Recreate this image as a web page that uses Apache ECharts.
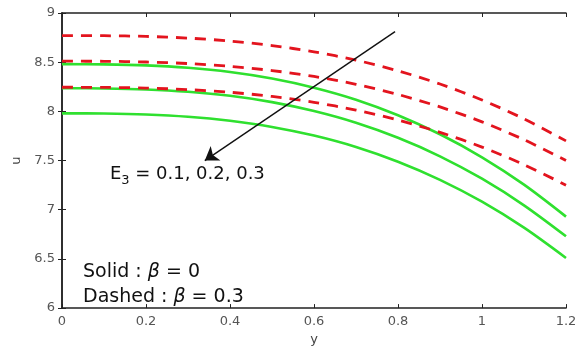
<!DOCTYPE html>
<html>
<head>
<meta charset="utf-8">
<script src="https://cdn.jsdelivr.net/npm/echarts@6/dist/echarts.min.js"></script>
<style>
html,body{margin:0;padding:0;background:#fff;}
#chart{width:582px;height:351px;}
</style>
</head>
<body>
<div id="chart"></div>
<script>
// ---- data ----
const yValues = [0, 0.1, 0.2, 0.3, 0.4, 0.5, 0.6, 0.7, 0.8, 0.9, 1.0, 1.1, 1.2];
// Solid (beta = 0), E3 = 0.1, 0.2, 0.3
const solidE1 = [8.48, 8.478, 8.468, 8.443, 8.400, 8.334, 8.241, 8.119, 7.961, 7.767, 7.533, 7.255, 6.93];
const solidE2 = [8.235, 8.233, 8.223, 8.199, 8.158, 8.094, 8.003, 7.884, 7.731, 7.543, 7.315, 7.045, 6.73];
const solidE3 = [7.98, 7.978, 7.968, 7.945, 7.904, 7.842, 7.754, 7.638, 7.488, 7.304, 7.082, 6.818, 6.51];
// Dashed (beta = 0.3), E3 = 0.1, 0.2, 0.3
const dashedE1 = [8.77, 8.769, 8.762, 8.745, 8.715, 8.669, 8.605, 8.521, 8.412, 8.278, 8.116, 7.924, 7.70];
const dashedE2 = [8.51, 8.509, 8.502, 8.486, 8.458, 8.415, 8.355, 8.275, 8.172, 8.045, 7.893, 7.712, 7.50];
const dashedE3 = [8.245, 8.244, 8.237, 8.221, 8.194, 8.152, 8.092, 8.013, 7.912, 7.787, 7.637, 7.458, 7.25];
const xTicks = [0, 0.2, 0.4, 0.6, 0.8, 1, 1.2];
const uTicks = [6, 6.5, 7, 7.5, 8, 8.5, 9];
// annotation anchors (data coordinates)
const arrowFrom = [0.793, 8.81];
const arrowTo = [0.340, 7.50];
const e3LabelAt = [0.114, 7.36];
const solidLabelAt = [0.05, 6.37];
const dashedLabelAt = [0.05, 6.115];

const GREEN = '#2fe02f';
const RED = '#e3141e';
const FONT = 'DejaVu Sans';

function pairs(ys) { return yValues.map((x, i) => [x, ys[i]]); }
function solid(ys) {
  return { type: 'line', data: pairs(ys), smooth: 0.3, showSymbol: false, symbol: 'none',
    lineStyle: { color: GREEN, width: 2.6 }, z: 2, silent: true };
}
function dashed(ys) {
  return { type: 'line', data: pairs(ys), smooth: 0.3, showSymbol: false, symbol: 'none',
    lineStyle: { color: RED, width: 2.8, type: [11, 8] }, z: 3, silent: true };
}

const axisLine = { show: true, lineStyle: { color: '#222', width: 1.5 } };
const tickLabel = { color: '#555', fontFamily: FONT, fontSize: 13 };

const chart = echarts.init(document.getElementById('chart'), null, { renderer: 'canvas' });
chart.setOption({
  animation: false,
  backgroundColor: '#fff',
  grid: { left: 62, right: 16, top: 13, bottom: 40, containLabel: false },
  xAxis: [
    { type: 'value', min: xTicks[0], max: xTicks[xTicks.length - 1], interval: 0.2,
      name: 'y', nameLocation: 'middle', nameGap: 15,
      nameTextStyle: { color: '#444', fontFamily: FONT, fontSize: 13 },
      axisLine: axisLine, axisTick: { inside: true, length: 4, lineStyle: { color: '#222' } },
      axisLabel: Object.assign({ margin: 7 }, tickLabel), splitLine: { show: false } },
    { type: 'value', position: 'top', min: xTicks[0], max: xTicks[xTicks.length - 1], interval: 0.2,
      axisLine: axisLine, axisTick: { inside: true, length: 4, lineStyle: { color: '#222' } },
      axisLabel: { show: false }, splitLine: { show: false } }
  ],
  yAxis: [
    { type: 'value', min: uTicks[0], max: uTicks[uTicks.length - 1], interval: 0.5,
      name: 'u', nameLocation: 'middle', nameGap: 39,
      nameTextStyle: { color: '#444', fontFamily: FONT, fontSize: 13 },
      axisLine: axisLine, axisTick: { inside: true, length: 4, lineStyle: { color: '#222' } },
      axisLabel: Object.assign({ margin: 7 }, tickLabel), splitLine: { show: false } },
    { type: 'value', position: 'right', min: uTicks[0], max: uTicks[uTicks.length - 1], interval: 0.5,
      axisLine: axisLine, axisTick: { inside: true, length: 4, lineStyle: { color: '#222' } },
      axisLabel: { show: false }, splitLine: { show: false } }
  ],
  series: [
    solid(solidE1), solid(solidE2), solid(solidE3),
    dashed(dashedE1), dashed(dashedE2), dashed(dashedE3),
    {
      type: 'line', data: [], silent: true, z: 5,
      markLine: {
        silent: true, animation: false,
        symbol: ['none', 'arrow'], symbolSize: 13,
        lineStyle: { color: '#111', width: 1.4, type: 'solid' },
        itemStyle: { color: '#111' },
        label: { show: false },
        data: [[{ coord: arrowFrom }, { coord: arrowTo }]]
      },
      markPoint: {
        silent: true, animation: false, symbol: 'circle', symbolSize: 0,
        itemStyle: { color: 'transparent' },
        label: { show: true, position: 'right', distance: 0, color: '#111', fontFamily: FONT, fontSize: 18,
          rich: {
            a: { fontFamily: FONT, fontSize: 18, color: '#111' },
            b: { fontFamily: FONT, fontSize: 19, color: '#111' },
            s: { fontFamily: FONT, fontSize: 13, color: '#111', padding: [12, 0, 0, 0] },
            i: { fontFamily: FONT, fontSize: 19, color: '#111', fontStyle: 'italic' }
          } },
        data: [
          { coord: e3LabelAt, label: { formatter: '{a|E}{s|3}{a| = 0.1, 0.2, 0.3}' } },
          { coord: solidLabelAt, label: { formatter: '{b|Solid : }{i|β}{b| = 0}' } },
          { coord: dashedLabelAt, label: { formatter: '{b|Dashed : }{i|β}{b| = 0.3}' } }
        ]
      }
    }
  ]
});
</script>
</body>
</html>
